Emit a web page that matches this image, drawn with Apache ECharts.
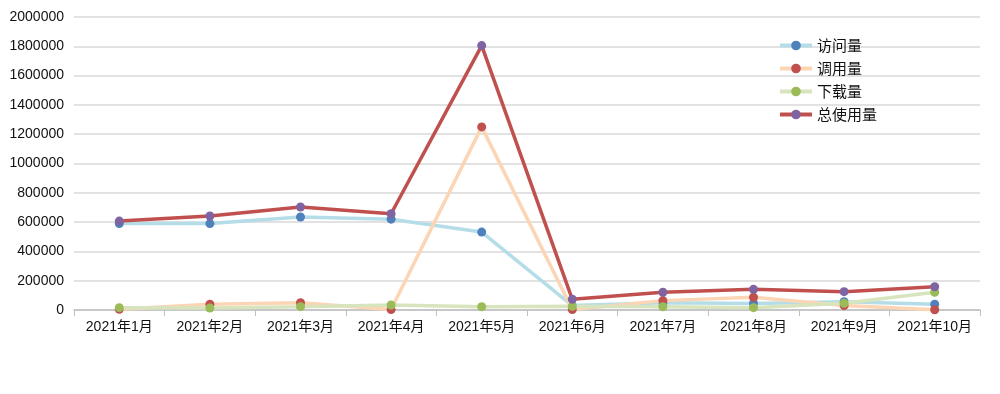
<!DOCTYPE html>
<html><head><meta charset="utf-8">
<script src="https://cdn.jsdelivr.net/npm/echarts@6/dist/echarts.min.js"></script>
<style>html,body{margin:0;padding:0;background:#fff}#c{width:1000px;height:394px}</style>
</head><body><div id="c"></div>
<script>
const categories = ['2021年1月','2021年2月','2021年3月','2021年4月','2021年5月','2021年6月','2021年7月','2021年8月','2021年9月','2021年10月'];
const visits   = [590000, 590000, 635000, 620000, 532000, 30000, 50000, 45000, 57000, 39000];
const calls    = [5000, 40000, 50000, 3000, 1250000, 3000, 64000, 87000, 30000, 2000];
const downloads= [16000, 14000, 23000, 34000, 22000, 25000, 22000, 16000, 46000, 121000];
const total    = [607000, 642000, 703000, 657000, 1805000, 73000, 121000, 141000, 125000, 159000];
const seriesNames = ['访问量','调用量','下载量','总使用量'];

const font = "'Liberation Sans','Noto Sans CJK SC',sans-serif";
function mk(name, data, lineColor, markColor, z){
  return {name, type:'line', data, symbol:'circle', symbolSize:9, z,
    lineStyle:{color:lineColor, width:3.5}, itemStyle:{color:markColor},
    emphasis:{disabled:true}};
}
const chart = echarts.init(document.getElementById('c'));
chart.setOption({
  backgroundColor:'#fff',
  animation:false,
  grid:{left:74, right:20, top:17, bottom:84},
  legend:{orient:'vertical', left:773, top:33, itemWidth:32, itemHeight:12, itemGap:8,
    lineStyle:{width:4},
    data:seriesNames, textStyle:{fontSize:15, color:'#111', fontFamily:"'Noto Sans CJK SC',sans-serif"}},
  xAxis:{type:'category', data:categories, boundaryGap:true,
    axisLine:{lineStyle:{color:'#bfbfbf', width:1.5}},
    axisTick:{show:true, length:6, lineStyle:{color:'#bfbfbf'}},
    axisLabel:{interval:0, fontSize:14, color:'#111', fontFamily:font, margin:10}},
  yAxis:{type:'value', min:0, max:2000000, interval:200000,
    axisLine:{show:false}, axisTick:{show:false},
    splitLine:{lineStyle:{color:'#d9d9d9', width:1.5}},
    axisLabel:{fontSize:14, color:'#111', fontFamily:font, margin:10, formatter:v=>String(v)}},
  series:[
    mk('访问量', visits, '#b4dde8', '#4f81bd', 2),
    mk('调用量', calls, '#fcd5b5', '#c0504d', 3),
    mk('下载量', downloads, '#d7e4bd', '#9bbb59', 4),
    mk('总使用量', total, '#c0504d', '#8064a2', 5)
  ]
});
</script></body></html>
